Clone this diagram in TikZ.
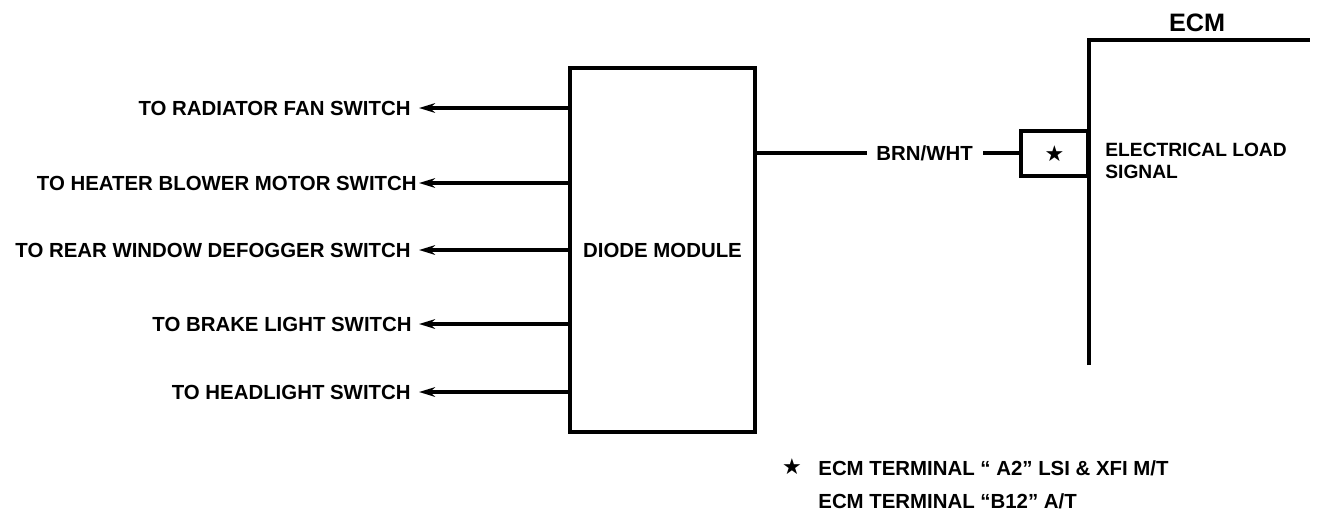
\documentclass[tikz,border=0pt]{standalone}
\usepackage{fontspec}
\setmainfont{Liberation Sans}
\newfontfamily\symfont{DejaVu Sans}
\usetikzlibrary{arrows.meta}
\begin{document}
\begin{tikzpicture}[x=0.5pt,y=-0.5pt,
  lbl/.style={font=\bfseries\fontsize{10.2}{12}\selectfont, inner sep=0pt},
  wire/.style={line width=1.6pt},
  outarrow/.style={wire, -{Stealth[length=8pt,width=4.8pt,inset=2.5pt]}},
  heavy/.style={line width=2.4pt},
  starsym/.style={font=\symfont\fontsize{11}{12}\selectfont, inner sep=0pt}]
\useasboundingbox (0,0) rectangle (1328,516);
% diode module
\node[draw, line width=2pt, minimum width=92.5pt, minimum height=182pt, inner sep=0pt,
      lbl] (dm) at (662.5,250) {DIODE MODULE};
% left labels
\node[lbl, anchor=east] (l1) at (411,108) {TO RADIATOR FAN SWITCH};
\node[lbl, anchor=east] (l2) at (417,183) {TO HEATER BLOWER MOTOR SWITCH};
\node[lbl, anchor=east] (l3) at (411,250) {TO REAR WINDOW DEFOGGER SWITCH};
\node[lbl, anchor=east] (l4) at (412,324) {TO BRAKE LIGHT SWITCH};
\node[lbl, anchor=east] (l5) at (411,392) {TO HEADLIGHT SWITCH};
\coordinate (t1) at (419,108);
\coordinate (t2) at (419,183);
\coordinate (t3) at (419,250);
\coordinate (t4) at (419,324);
\coordinate (t5) at (419,392);
\foreach \i in {1,...,5} \draw[outarrow] (dm.west |- t\i) -- (t\i);
% output wire
\node[lbl, anchor=west] (brn) at (876,153) {BRN/WHT};
\node[draw, heavy, minimum width=33.5pt, minimum height=22.5pt, inner sep=0pt] (tb) at (1054.5,153.5) {};
\node[starsym] (st) at (tb.center) {★};
\draw[wire] (dm.east |- brn.west) -- ([xshift=-4.5pt]brn.west);
\draw[wire] ([xshift=5pt]brn.east) -- (tb.west |- brn.east);
% ECM
\coordinate (ecmbot) at (1089,365);
\coordinate (ecmcorner) at (1089,40);
\coordinate (ecmend) at (1310,40);
\draw[heavy] (ecmbot) -- (ecmcorner) -- (ecmend);
\node[font=\bfseries\fontsize{12.6}{14}\selectfont, inner sep=0pt] (ecm) at (1197,23) {ECM};
\node[font=\bfseries\fontsize{9.6}{11}\selectfont, inner sep=0pt, anchor=north west, align=left] (els) at (1105,143) {ELECTRICAL LOAD\\SIGNAL};
% footnote
\node[starsym] (fs) at (792,467) {★};
\node[lbl, anchor=west] (f1) at (818,468) {ECM TERMINAL “ A2” LSI \& XFI M/T};
\node[lbl, anchor=west] (f2) at (818,501) {ECM TERMINAL “B12” A/T};
\end{tikzpicture}
\end{document}
